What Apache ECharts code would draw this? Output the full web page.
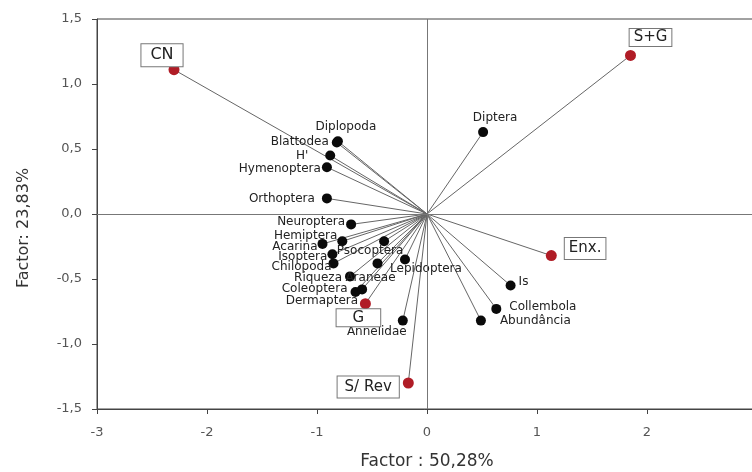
<!DOCTYPE html>
<html>
<head>
<meta charset="utf-8">
<script src="https://cdn.jsdelivr.net/npm/echarts@6/dist/echarts.min.js"></script>
<style>html,body{margin:0;padding:0;background:#fff}#c{width:752px;height:472px}</style>
</head>
<body>
<div id="c"></div>
<script>
// Variables (black points)
const varNames = ['Diplopoda','Blattodea',"H'",'Hymenoptera','Orthoptera','Neuroptera','Hemiptera','Acarina','Isoptera','Chilopoda','Psocoptera','Araneae','Lepidoptera','Riqueza','Coleoptera','Dermaptera','Annelidae','Diptera','Is','Collembola','Abundância'];
const varX = [-0.81,-0.82,-0.88,-0.91,-0.91,-0.69,-0.77,-0.95,-0.86,-0.85,-0.39,-0.45,-0.20,-0.70,-0.65,-0.59,-0.22,0.51,0.76,0.63,0.49];
const varY = [0.56,0.55,0.45,0.36,0.12,-0.08,-0.21,-0.23,-0.31,-0.38,-0.21,-0.38,-0.35,-0.48,-0.60,-0.58,-0.82,0.63,-0.55,-0.73,-0.82];
// Supplementary (red points)
const supNames = ['CN','S+G','Enx.','G','S/ Rev'];
const supX = [-2.30,1.85,1.13,-0.56,-0.17];
const supY = [1.11,1.22,-0.32,-0.69,-1.30];
// Axis ticks
const xTicks = [-3,-2,-1,0,1,2,3];
const yTicks = [-1.5,-1.0,-0.5,0.0,0.5,1.0,1.5];

// label placement (style only)
const varLabelPos = {
  'Diplopoda':['top',[8,0]], 'Blattodea':['left',[0,-1]], "H'":['left',[-14,0]], 'Hymenoptera':['left',[2,2]],
  'Orthoptera':['left',[-4,0]], 'Neuroptera':['left',[2,-3]], 'Hemiptera':['left',[3,-5]], 'Acarina':['left',[3,3]],
  'Isoptera':['left',[3,3]], 'Chilopoda':['left',[6,3]], 'Psocoptera':['bottom',[-14,-4]], 'Araneae':['bottom',[-7,0]],
  'Lepidoptera':['bottom',[21,-5]], 'Riqueza':['left',[0,1]], 'Coleoptera':['left',[0,-3]], 'Dermaptera':['left',[4,11]],
  'Annelidae':['bottom',[-26,-3]], 'Diptera':['top',[12,0]], 'Is':['right',[0,-4]], 'Collembola':['right',[5,-2]], 'Abundância':['right',[11,0]]
};
const supLabelPos = {
  'CN':['top',[-12,6],[3,9],16], 'S+G':['top',[20,0],[1,4],15], 'Enx.':['right',[4,-7],[3,4],15],
  'G':['bottom',[-7,-4],[1,16],15], 'S/ Rev':['left',[0,4],[3,7],15]
};

const varData = varNames.map((n,i)=>({name:n,value:[varX[i],varY[i]],
  label:{position:varLabelPos[n][0],offset:varLabelPos[n][1]}}));
const supData = supNames.map((n,i)=>({name:n,value:[supX[i],supY[i]],
  label:{position:supLabelPos[n][0],offset:supLabelPos[n][1],padding:supLabelPos[n][2],fontSize:supLabelPos[n][3]}}));
const rayData = varNames.map((n,i)=>({coords:[[0,0],[varX[i],varY[i]]]}))
  .concat(supNames.map((n,i)=>({coords:[[0,0],[supX[i],supY[i]]]})));

const FONT = 'DejaVu Sans, Liberation Sans, sans-serif';
const chart = echarts.init(document.getElementById('c'));
chart.setOption({
  animation:false,
  backgroundColor:'#fff',
  textStyle:{fontFamily:FONT},
  grid:{left:97,right:-5,top:19,bottom:63,show:true,borderColor:'#444',borderWidth:1,outerBoundsMode:'none',containLabel:false},
  xAxis:{type:'value',min:xTicks[0],max:xTicks[xTicks.length-1],interval:1,
    name:'Factor : 50,28%',nameLocation:'middle',nameGap:44,nameTextStyle:{fontSize:17,color:'#333',fontFamily:FONT},
    axisLine:{onZero:false,lineStyle:{color:'#444'}},axisTick:{length:5,lineStyle:{color:'#444'}},
    axisLabel:{fontSize:13,color:'#555',margin:17,fontFamily:FONT},splitLine:{show:false}},
  yAxis:{type:'value',min:yTicks[0],max:yTicks[yTicks.length-1],interval:0.5,
    name:'Factor: 23,83%',nameLocation:'middle',nameGap:65,
    nameTextStyle:{fontSize:16,color:'#333',fontFamily:FONT,padding:[0,28,0,0]},
    axisLine:{onZero:false,lineStyle:{color:'#444'}},axisTick:{length:5,lineStyle:{color:'#444'}},
    axisLabel:{fontSize:13,color:'#555',margin:15,fontFamily:FONT,formatter:v=>v.toFixed(1).replace('.',',')},splitLine:{show:false}},
  series:[
    {type:'lines',coordinateSystem:'cartesian2d',silent:true,data:rayData,
     lineStyle:{color:'#666',width:1,opacity:1},z:2,
     markLine:{silent:true,symbol:'none',label:{show:false},lineStyle:{color:'#777',width:1,type:'solid'},
       data:[{xAxis:0},{yAxis:0}]}},
    {type:'scatter',data:varData,symbolSize:10,itemStyle:{color:'#0a0a0a',opacity:1},z:4,
     label:{show:true,formatter:'{b}',fontSize:12,color:'#222',distance:3,fontFamily:FONT}},
    {type:'scatter',data:supData,symbolSize:11,itemStyle:{color:'#b01c26',opacity:1},z:5,
     label:{show:true,formatter:'{b}',fontSize:15,color:'#222',distance:4,fontFamily:FONT,
       borderColor:'#777',borderWidth:1,backgroundColor:'#fff'}}
  ]
});
</script>
</body>
</html>
